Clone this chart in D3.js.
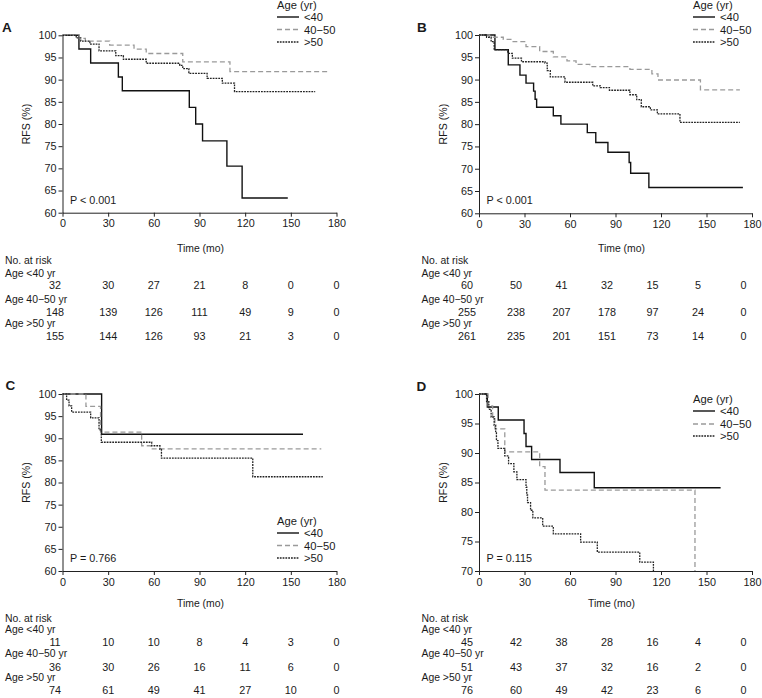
<!DOCTYPE html>
<html><head><meta charset="utf-8">
<script src="https://cdn.jsdelivr.net/npm/d3@7"></script>
<style>
body{margin:0;background:#fff}
text{font-family:"Liberation Sans",Arial,Helvetica,sans-serif;fill:#1a1a1a}
</style></head>
<body><svg id="chart" width="762" height="698"></svg>
<script>
// ---------- data ----------
const timeTicks = [0, 30, 60, 90, 120, 150, 180];
const groups = ["<40", "40\u221250", ">50"];
const riskLabels = ["Age <40 yr", "Age 40\u221250 yr", "Age >50 yr"];
const yTicksA = [60, 65, 70, 75, 80, 85, 90, 95, 100];
const yTicksD = [70, 75, 80, 85, 90, 95, 100];

// Panel A curves [time (mo), RFS (%)]
const aLt40 = [[0,100],[10.8,96.9],[18.5,93.75],[36.7,90.6],[39.3,87.5],[83.3,83.75],[87.5,80],[92,76.2],[108,70.5],[118,63.3],[148,63.3]];
const a4050 = [[0,100],[11,99.3],[15,98.7],[31,97.8],[47,96.9],[55,95.9],[79,94.0],[110,91.8],[174,91.8]];
const aGt50 = [[0,100],[9,99.4],[12,98.7],[18,98.0],[24,96.5],[35,95.4],[40,94.6],[55,93.7],[77,93.2],[79,92.5],[83,91.4],[95,90.3],[105,89.2],[113,87.3],[166,87.3]];
// Panel B
const bLt40 = [[0,100],[10.5,96.7],[19.3,93.3],[27,91.0],[31,89.2],[36,87.4],[37,85.6],[38,83.8],[49,81.9],[54,80.0],[71.4,78.1],[77,75.9],[85,73.7],[99,71.4],[100,69.0],[112,65.8],[174,65.8]];
const b4050 = [[0,100],[7,99.5],[16,99.0],[22.5,98.5],[31,97.4],[40,96.3],[49,95.1],[58,94.2],[64,93.4],[73,92.9],[99.5,92.3],[114,91.3],[118,89.9],[146,87.7],[172,87.7]];
const bGt50 = [[0,100],[5,99.5],[8,98.5],[10,96.7],[19,95.9],[22,94.8],[28,94.0],[43.5,93.7],[45,92.0],[47,90.6],[56.7,89.4],[75,88.6],[80,88.2],[86,87.6],[99.5,86.6],[104,85.5],[107,83.9],[113,83.2],[117.6,82.3],[132.5,80.4],[172,80.4]];
// Panel C
const cLt40 = [[0,100],[25.7,90.9],[158,90.9]];
const c4050 = [[0,100],[15.4,97.2],[25,91.4],[52,88.3],[58,87.6],[170,87.6]];
const cGt50 = [[0,100],[2.7,98.6],[4.3,97.3],[6,95.9],[18.5,94.6],[24,91.9],[25.5,89.1],[58.6,88.3],[64,87.5],[65,85.5],[125,81.3],[171,81.3]];
// Panel D
const dLt40 = [[0,100],[5.5,97.8],[12.7,95.6],[29.7,93.3],[31,91.1],[34.7,88.9],[53.4,86.7],[76,84.1],[159.3,84.1]];
const d4050 = [[0,100],[6,98.0],[9,96.1],[10.5,94.1],[17,90.2],[40,87.7],[43.5,83.7],[142.4,83.7],[142.4,60]];
const dGt50 = [[0,100],[5,98.7],[6.5,97.4],[8,96.1],[10,94.7],[11,93.4],[11.5,92.1],[12.5,90.8],[17,89.5],[19.5,88.2],[23,86.8],[25,85.5],[31,84.2],[31.5,82.9],[32,81.6],[34,80.3],[35.5,79.0],[42,77.6],[49,76.3],[67,74.9],[78,73.2],[106,71.5],[115,60]];

// Numbers at risk
const riskA = [[32,30,27,21,8,0,0],[148,139,126,111,49,9,0],[155,144,126,93,21,3,0]];
const riskB = [[60,50,41,32,15,5,0],[255,238,207,178,97,24,0],[261,235,201,151,73,14,0]];
const riskC = [[11,10,10,8,4,3,0],[36,30,26,16,11,6,0],[74,61,49,41,27,10,0]];
const riskD = [[45,42,38,28,16,4,0],[51,43,37,32,16,2,0],[76,60,49,42,23,6,0]];

const pValues = ["P < 0.001", "P < 0.001", "P = 0.766", "P = 0.115"];
const panelLetters = ["A", "B", "C", "D"];

// ---------- layout ----------
const styles = [
  {stroke:"#111", width:1.4, dash:null},
  {stroke:"#9a9a9a", width:1.3, dash:"5,3"},
  {stroke:"#222", width:1.3, dash:"1.8,1"}
];
const panels = [
  {letter:0, x0:62.5, x1:336.5, yTop:35.3, yBot:212.7, yMin:60, ticks:yTicksA, curves:[aLt40,a4050,aGt50], risk:riskA,
   lx:2, ly:31.7, leg:[214.5, 9], legRows:[21, 33.5, 46], rows:[251.5,263.8,276.8,289,303,316,327,340], numDx:0, firstDx:-7.5, titleDx:1},
  {letter:1, x0:479, x1:752, yTop:35, yBot:213.3, yMin:60, ticks:yTicksA, curves:[bLt40,b4050,bGt50], risk:riskB,
   lx:417, ly:31.7, leg:[214, 9], legRows:[21, 33.5, 46], rows:[251.5,263.8,276.8,289,303,316,327,340], numDx:-8.5, firstDx:-3.5, titleDx:6},
  {letter:2, x0:62.5, x1:336.5, yTop:394, yBot:571, yMin:60, ticks:yTicksA, curves:[cLt40,c4050,cGt50], risk:riskC,
   lx:5.5, ly:390, leg:[214.5, 525], legRows:[537, 549.5, 562], rows:[607,622,633,646,657,671,681,694], numDx:0, firstDx:-7.5, titleDx:1},
  {letter:3, x0:479, x1:752, yTop:394, yBot:571, yMin:70, ticks:yTicksD, curves:[dLt40,d4050,dGt50], risk:riskD,
   lx:416.5, ly:390.7, leg:[214, 403], legRows:[415, 428, 440], rows:[607,622,633,646,657,671,681,694], numDx:-8.5, firstDx:-3.5, titleDx:-4}
];

const svg = d3.select("#chart");
svg.append("rect").attr("width",762).attr("height",698).attr("fill","#fff");

panels.forEach((p, pi) => {
  const w = p.x1 - p.x0, h = p.yBot - p.yTop;
  const x = d3.scaleLinear().domain([0,180]).range([0,w]);
  const y = d3.scaleLinear().domain([p.yMin,100]).range([h,0]);
  const g = svg.append("g").attr("transform",`translate(${p.x0},${p.yTop})`);

  const cid = "clip"+pi;
  g.append("clipPath").attr("id",cid).append("rect").attr("x",-1).attr("y",-3).attr("width",w+2).attr("height",h+3);

  const ya = g.append("g").call(d3.axisLeft(y).tickValues(p.ticks).tickSize(4).tickPadding(2).tickSizeOuter(0));
  const xa = g.append("g").attr("transform",`translate(0,${h})`).call(d3.axisBottom(x).tickValues(timeTicks).tickSize(4).tickPadding(3).tickSizeOuter(0));
  [ya, xa].forEach(a => {
    a.select(".domain").attr("stroke","#222").attr("stroke-width",1);
    a.selectAll(".tick line").attr("stroke","#222");
    a.selectAll(".tick text").style("font-size","10.8px").attr("fill","#1a1a1a");
  });

  g.append("text").attr("transform",`translate(-36,${h/2}) rotate(-90)`).attr("text-anchor","middle")
    .attr("dy","0.35em").style("font-size","10.6px").text("RFS (%)");

  const line = d3.line().x(d=>x(d[0])).y(d=>y(d[1])).curve(d3.curveStepAfter);
  p.curves.forEach((c, ci) => {
    const s = styles[ci];
    g.append("path").datum(c).attr("d",line).attr("fill","none")
      .attr("stroke",s.stroke).attr("stroke-width",s.width)
      .attr("stroke-dasharray",s.dash).attr("clip-path",`url(#${cid})`);
  });

  svg.append("text").attr("x",p.x0+7.5).attr("y",p.yBot-9).style("font-size","10.8px").text(pValues[pi]);
  svg.append("text").attr("x",p.lx).attr("y",p.ly).style("font-size","13.5px").style("font-weight","bold").text(panelLetters[p.letter]);

  const lgx = p.x0 + p.leg[0];
  svg.append("text").attr("x",lgx).attr("y",p.leg[1]).style("font-size","11.2px").text("Age (yr)");
  groups.forEach((gname, gi) => {
    const s = styles[gi];
    const ly = p.legRows[gi];
    svg.append("line").attr("x1",lgx).attr("x2",lgx+22).attr("y1",ly-4).attr("y2",ly-4)
      .attr("stroke",s.stroke).attr("stroke-width",s.width).attr("stroke-dasharray",s.dash);
    svg.append("text").attr("x",lgx+27).attr("y",ly).style("font-size","11.2px").text(gname);
  });

  const r = p.rows;
  svg.append("text").attr("x",p.x0 + w/2 + p.titleDx).attr("y",r[0]).attr("text-anchor","middle").style("font-size","10.4px").text("Time (mo)");
  const lx = p.x0 - 57.5;
  svg.append("text").attr("x",lx).attr("y",r[1]).style("font-size","10.4px").text("No. at risk");
  riskLabels.forEach((lab, li) => {
    svg.append("text").attr("x",lx).attr("y",r[2+li*2]).style("font-size","10.4px").text(lab);
    p.risk[li].forEach((v, ti) => {
      svg.append("text").attr("x",p.x0 + x(timeTicks[ti]) + p.numDx + (ti===0 ? p.firstDx : 0))
        .attr("y",r[3+li*2]).attr("text-anchor","middle").style("font-size","10.8px").text(v);
    });
  });
});
</script></body></html>
